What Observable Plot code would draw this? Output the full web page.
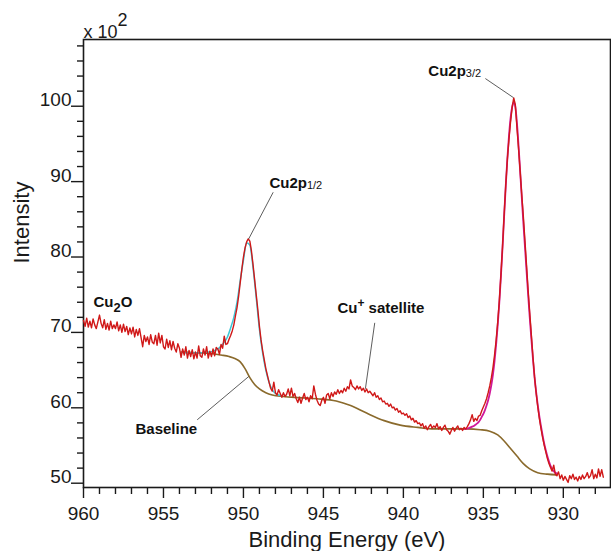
<!DOCTYPE html>
<html><head><meta charset="utf-8">
<script src="https://cdn.jsdelivr.net/npm/d3@7"></script>
<script src="https://cdn.jsdelivr.net/npm/@observablehq/plot@0.6"></script>
<style>
html,body{margin:0;padding:0;background:#fff;overflow:hidden}
svg{overflow:visible}
</style></head><body>
<script>
// ---- Data ----
// Measured spectrum: binding energy grid start/step (eV) and intensity (x 10^2 counts)
const rawStart = 960.0, rawStep = 0.1;
const rawIntensity = [
  71.6,70.8,71.9,70.7,71.5,70.6,71.8,71.0,70.5,71.4,
  72.3,71.2,70.6,71.7,70.4,71.2,70.3,71.5,70.5,71.0,
  70.5,71.4,70.2,71.0,70.0,71.1,70.1,70.8,69.7,70.6,
  69.8,70.7,69.4,70.4,69.6,70.5,69.3,68.1,69.6,68.8,
  69.4,68.4,69.7,68.7,68.5,69.6,68.3,69.9,68.6,69.6,
  68.1,67.8,69.1,68.0,68.9,67.7,68.8,67.9,67.4,68.5,
  67.9,66.7,67.8,67.0,68.1,66.6,67.6,66.8,67.7,66.5,
  67.4,66.6,68.2,66.9,66.7,67.8,67.0,68.1,66.6,67.5,
  66.8,67.8,66.9,68.0,67.8,67.1,68.4,67.9,69.5,68.4,
  68.5,69.1,69.6,70.2,71.0,72.2,73.3,74.8,76.6,78.4,
  80.0,81.2,82.0,82.4,82.1,80.8,79.0,77.0,75.0,73.0,
  70.8,69.0,67.6,66.4,65.2,64.3,63.4,62.6,62.2,63.4,
  62.0,61.7,62.4,61.9,61.4,62.0,61.5,61.8,62.5,61.6,
  62.6,61.5,61.9,61.2,60.7,61.4,60.6,61.3,61.9,61.1,
  61.4,60.8,61.6,61.2,62.9,61.8,61.0,60.5,60.3,61.0,
  61.4,60.6,61.7,61.9,61.2,62.0,61.5,62.1,61.8,62.4,
  61.9,62.3,62.0,62.6,62.2,62.8,62.5,63.7,62.9,62.7,
  62.4,62.9,62.5,62.8,62.3,62.6,62.1,62.5,62.0,62.2,
  61.9,61.6,62.0,61.4,61.6,61.1,61.3,60.8,60.9,60.5,
  60.6,60.2,60.5,60.0,60.1,59.7,59.9,59.4,59.6,59.2,
  59.3,59.0,59.2,58.7,58.9,58.4,58.6,58.1,58.3,57.9,
  58.0,57.6,57.9,57.3,57.6,57.1,57.5,57.8,57.3,57.6,
  57.4,57.9,57.2,57.5,57.0,57.4,57.7,57.1,56.9,56.5,
  57.0,57.4,56.9,57.3,57.6,57.1,57.3,57.0,57.4,57.2,
  57.5,57.9,58.4,59.1,58.2,58.6,58.3,58.9,59.0,59.6,
  60.1,60.6,61.2,62.0,62.9,64.0,65.3,67.0,69.0,71.4,
  74.2,77.7,81.4,85.6,89.5,92.9,95.6,97.9,99.8,101.1,
  100.2,97.2,94.4,91.4,88.3,85.4,82.2,78.9,75.6,72.6,
  69.7,66.8,64.1,62.0,60.2,58.6,57.3,56.1,55.1,54.2,
  53.3,52.6,52.1,51.6,52.4,51.2,51.0,51.5,50.6,51.1,
  50.4,50.9,50.5,50.1,51.0,50.6,51.2,50.5,50.8,50.3,
  50.9,50.5,51.1,50.6,50.9,51.4,50.7,51.0,51.8,50.6,
  51.2,50.7,51.9,50.9,51.8,50.8
];

// Shirley-type baseline
const baseEnergy = [953.9,953.0,952.0,951.4,950.9,950.5,950.2,949.9,949.6,949.3,949.0,948.6,948.2,947.5,946.5,945.4,944.2,943.3,942.3,941.2,940.2,939.1,938.1,937.0,936.0,935.2,934.6,934.1,933.7,933.3,932.9,932.5,932.1,931.6,931.0,930.4];
const baseIntensity = [67.4,67.3,67.2,67.0,66.8,66.5,66.1,65.2,64.0,63.1,62.5,62.0,61.7,61.5,61.35,61.2,60.9,60.3,59.3,58.3,57.7,57.4,57.2,57.2,57.2,57.1,56.9,56.4,55.6,54.6,53.6,52.6,51.9,51.4,51.2,51.1];

// Fit envelope of Cu2p1/2 (cyan)
const fit12Start = 953.8, fit12Step = 0.2;
const fit12Intensity = [67.35,67.3,67.3,67.3,67.3,67.3,67.3,67.35,67.4,67.45,67.6,67.8,68.2,68.7,69.4,70.6,72.0,74.0,76.9,79.6,81.9,81.6,78.6,74.6,70.4,67.3,65.0,63.4,62.4,61.9,61.7,61.6];

// Fit envelope of Cu2p3/2 (magenta)
const fit32Start = 936.2, fit32Step = 0.1;
const fit32Intensity = [
  57.2,57.2,57.25,57.3,57.4,57.5,57.6,57.75,57.9,58.1,
  58.4,58.8,59.2,59.7,60.3,61.0,61.9,63.0,64.4,66.2,
  68.4,71.0,74.0,77.5,81.3,85.4,89.4,93.0,96.0,98.4,
  99.9,100.5,99.9,97.8,94.8,91.4,88.0,84.6,81.4,78.2,
  75.0,72.0,69.2,66.5,64.1,62.1,60.4,58.9,57.6,56.4,
  55.3,54.4,53.6,52.9,52.3,51.9,51.6,51.4,51.3
];

// Axis ticks
const xMajorTicks = [960,955,950,945,940,935,930];
const xMinorTicks = [959,958,957,956,954,953,952,951,949,948,947,946,944,943,942,941,939,938,937,936,934,933,932,931,929,928];
const yMajorTicks = [50,60,70,80,90,100];
const yMinorTicks = [52,54,56,58,62,64,66,68,72,74,76,78,82,84,86,88,92,94,96,98,102,104,106,108];

// Annotations (label anchor in data units, leader line ends in data units)
const labelText = ["Cu2p_{3/2}","Cu2p_{1/2}","Cu^{+} satellite","Cu_{2}O","Baseline"];
const labelEnergy = [938.44,948.375,944.125,959.375,956.75];
const labelIntensity = [104.07,89.09,72.57,73.34,56.55];
const leaderFromEnergy = [934.875,948.14,941.79,952.89];
const leaderFromIntensity = [103.67,88.59,71.27,58.41];
const leaderToEnergy = [933.125,949.67,942.375,949.67];
const leaderToIntensity = [101.15,82.41,62.52,64.15];

// ---- Build tables ----
const raw = rawIntensity.map((v,i)=>({be: +(rawStart - i*rawStep).toFixed(2), i: v}));
const base = baseEnergy.map((e,k)=>({be: e, i: baseIntensity[k]}));
const fit12 = fit12Intensity.map((v,k)=>({be: +(fit12Start - k*fit12Step).toFixed(2), i: v}));
const fit32 = fit32Intensity.map((v,k)=>({be: +(fit32Start - k*fit32Step).toFixed(2), i: v}));
const labels = labelText.map((t,k)=>({t, x: labelEnergy[k], y: labelIntensity[k]}));
const leaders = leaderFromEnergy.map((e,k)=>({x1:e, y1:leaderFromIntensity[k], x2:leaderToEnergy[k], y2:leaderToIntensity[k]}));

const FONT = "'Liberation Sans', Arial, Helvetica, sans-serif";
const axisColor = "#1a1a1a";

const plot = Plot.plot({
  width: 611, height: 551,
  marginLeft: 83, marginRight: 1, marginTop: 39, marginBottom: 64,
  style: {fontFamily: FONT, background: "#fff", color: axisColor, overflow: "visible"},
  x: {domain: [960, 927.05]},
  y: {domain: [49.43, 108.85]},
  marks: [
    Plot.axisX({ticks: xMinorTicks, tickSize: 7, text: null, label: null, stroke: axisColor, strokeWidth: 1.4}),
    Plot.axisX({ticks: xMajorTicks, tickSize: 11, tickPadding: 8, label: null, fontSize: 19, stroke: axisColor, strokeWidth: 1.4, tickFormat: d => String(d)}),
    Plot.axisY({ticks: yMinorTicks, tickSize: 6, text: null, label: null, stroke: axisColor, strokeWidth: 1.4}),
    Plot.axisY({ticks: yMajorTicks, tickSize: 12, tickPadding: 0, label: null, fontSize: 19, lineAnchor: "bottom", stroke: axisColor, strokeWidth: 1.4, tickFormat: d => String(d)}),
    Plot.frame({stroke: axisColor, strokeWidth: 1.6}),
    Plot.line(base, {x: "be", y: "i", stroke: "#8a6a2c", strokeWidth: 1.6, curve: "monotone-x"}),
    Plot.line(fit12, {x: "be", y: "i", stroke: "#3cc6d6", strokeWidth: 1.5, curve: "monotone-x"}),
    Plot.line(fit32, {x: "be", y: "i", stroke: "#d0189a", strokeWidth: 1.8, curve: "monotone-x"}),
    Plot.line(raw, {x: "be", y: "i", stroke: "#d01818", strokeWidth: 1.4}),
    Plot.link(leaders, {x1: "x1", y1: "y1", x2: "x2", y2: "y2", stroke: "#333", strokeWidth: 0.8}),
    Plot.text(labels, {x: "x", y: "y", text: "t", textAnchor: "start", lineAnchor: "bottom", fontSize: 15, fontWeight: "bold", fill: "#111"}),
    Plot.text(["x 10^{2}"], {frameAnchor: "top-left", textAnchor: "start", lineAnchor: "bottom", dy: -1.5, fontSize: 18, fill: axisColor}),
    Plot.text(["Intensity"], {frameAnchor: "left", rotate: -90, lineAnchor: "bottom", dx: -54.5, fontSize: 22, fill: axisColor}),
    Plot.text(["Binding Energy (eV)"], {frameAnchor: "bottom", lineAnchor: "bottom", dy: 59, fontSize: 22, fill: axisColor})
  ]
});

// Sub/superscript styling for rich labels
const scriptStyles = {
  "_{3/2}": {size: 11, weight: "normal", dy: 1},
  "_{1/2}": {size: 11, weight: "normal", dy: 1},
  "_{2}": {size: 13, weight: "bold", dy: 5},
  "^{+}": {size: 12, weight: "bold", dy: -6},
  "^{2}": {size: 18, weight: "normal", dy: -12}
};
const NS = "http://www.w3.org/2000/svg";
plot.querySelectorAll("text").forEach(t => {
  const s = t.textContent;
  if (!/[_^]\{/.test(s)) return;
  const parts = s.split(/([_^]\{[^}]*\})/).filter(p => p !== "");
  while (t.firstChild) t.removeChild(t.firstChild);
  let shift = 0;
  for (const p of parts) {
    const ts = document.createElementNS(NS, "tspan");
    const st = scriptStyles[p];
    if (st) {
      ts.textContent = p.slice(2, -1);
      ts.setAttribute("font-size", st.size);
      ts.setAttribute("font-weight", st.weight);
      ts.setAttribute("dy", st.dy);
      shift += st.dy;
    } else {
      ts.textContent = p;
      if (shift) { ts.setAttribute("dy", -shift); shift = 0; }
    }
    t.appendChild(ts);
  }
});

document.body.appendChild(plot);
</script>
</body></html>
